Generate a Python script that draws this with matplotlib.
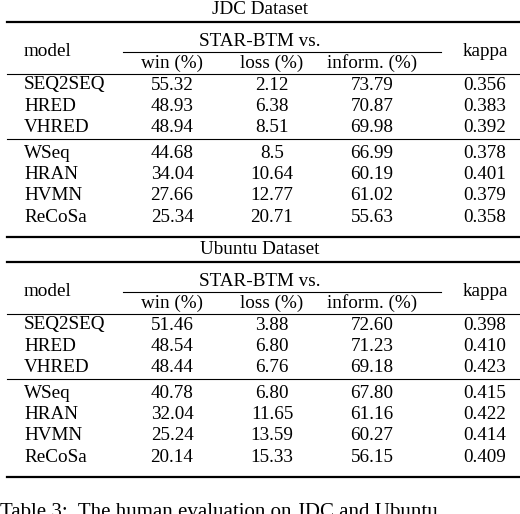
import matplotlib.pyplot as plt

plt.rcParams['font.family'] = ['Liberation Serif', 'DejaVu Serif']

models = ["SEQ2SEQ", "HRED", "VHRED", "WSeq", "HRAN", "HVMN", "ReCoSa"]
jdc_win = ["55.32", "48.93", "48.94", "44.68", "34.04", "27.66", "25.34"]
jdc_loss = ["2.12", "6.38", "8.51", "8.5", "10.64", "12.77", "20.71"]
jdc_inform = ["73.79", "70.87", "69.98", "66.99", "60.19", "61.02", "55.63"]
jdc_kappa = ["0.356", "0.383", "0.392", "0.378", "0.401", "0.379", "0.358"]
ubu_win = ["51.46", "48.54", "48.44", "40.78", "32.04", "25.24", "20.14"]
ubu_loss = ["3.88", "6.80", "6.76", "6.80", "11.65", "13.59", "15.33"]
ubu_inform = ["72.60", "71.23", "69.18", "67.80", "61.16", "60.27", "56.15"]
ubu_kappa = ["0.398", "0.410", "0.423", "0.415", "0.422", "0.414", "0.409"]

fig = plt.figure(figsize=(5.2, 5.14), dpi=100)
ax = fig.add_axes([0, 0, 1, 1])
ax.set_xlim(0, 520)
ax.set_ylim(514, 0)
ax.axis('off')

fs = 13.8
cols = [172, 272, 372]
row_off = [63, 84.5, 106, 131, 152.5, 174, 195.5]


def block(top, title, win, loss, inform, kappa):
    ax.text(260, top - 13, title, ha='center', va='center', fontsize=fs)
    ax.plot([7, 520], [top, top], color='black', lw=1.6)
    ax.text(260, top + 19, "STAR-BTM vs.", ha='center', va='center', fontsize=fs)
    ax.plot([123, 441], [top + 30, top + 30], color='black', lw=0.8)
    ax.text(24, top + 29, "model", ha='left', va='center', fontsize=fs)
    ax.text(485, top + 29, "kappa", ha='center', va='center', fontsize=fs)
    for x, h in zip(cols, ["win (%)", "loss (%)", "inform. (%)"]):
        ax.text(x, top + 41, h, ha='center', va='center', fontsize=fs)
    ax.plot([7, 520], [top + 52, top + 52], color='black', lw=0.8)
    ax.plot([7, 520], [top + 117, top + 117], color='black', lw=0.8)
    for i, m in enumerate(models):
        y = top + row_off[i]
        ax.text(24, y, m, ha='left', va='center', fontsize=fs)
        for x, v in zip(cols, [win[i], loss[i], inform[i]]):
            ax.text(x, y, v, ha='center', va='center', fontsize=fs)
        ax.text(485, y, kappa[i], ha='center', va='center', fontsize=fs)
    ax.plot([7, 520], [top + 215, top + 215], color='black', lw=1.6)


block(22, "JDC Dataset", jdc_win, jdc_loss, jdc_inform, jdc_kappa)
block(262, "Ubuntu Dataset", ubu_win, ubu_loss, ubu_inform, ubu_kappa)

# caption is cut off at the bottom edge in the reference too
ax.text(0, 503, "Table 3:  The human evaluation on JDC and Ubuntu", ha='left',
        va='top', fontsize=15)

fig.savefig("out.png", dpi=100)
